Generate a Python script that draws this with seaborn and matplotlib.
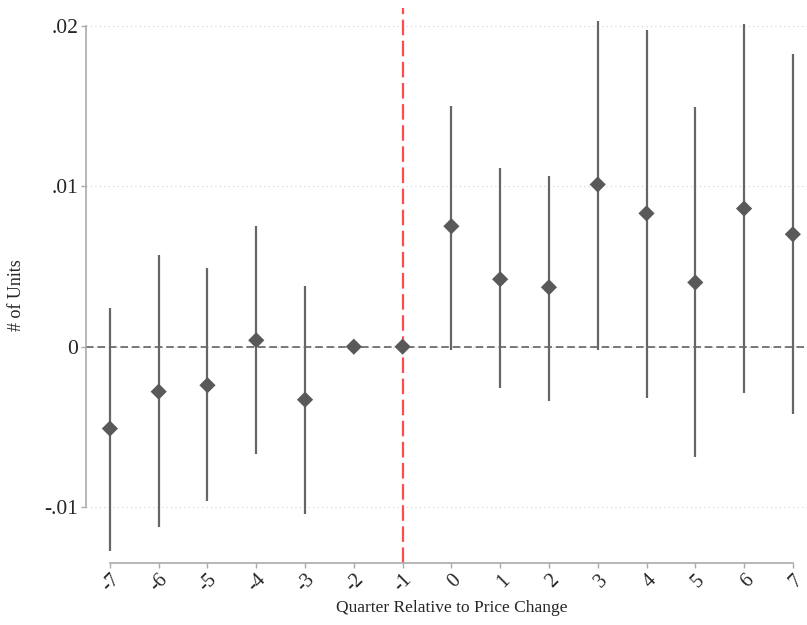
import matplotlib
matplotlib.use("Agg")
import matplotlib.pyplot as plt
import seaborn as sns
import pandas as pd

quarters = [-7, -6, -5, -4, -3, -2, -1, 0, 1, 2, 3, 4, 5, 6, 7]
coef = [-0.0051, -0.0028, -0.0024, 0.0004, -0.0033, 0.0, 0.0,
        0.0075, 0.0042, 0.0037, 0.0101, 0.0083, 0.0040, 0.0086, 0.0070]
ci_low = [-0.0127, -0.0112, -0.0096, -0.0067, -0.0104, 0.0, 0.0,
          -0.0002, -0.0026, -0.0034, -0.0002, -0.0032, -0.0069, -0.0029, -0.0042]
ci_high = [0.0024, 0.0057, 0.0049, 0.0075, 0.0038, 0.0, 0.0,
           0.0150, 0.0111, 0.0106, 0.0203, 0.0197, 0.0149, 0.0201, 0.0182]
ytick_vals = [-0.01, 0.0, 0.01, 0.02]
ytick_labels = ["-.01", "0", ".01", ".02"]

df = pd.DataFrame({"quarter": quarters, "coef": coef, "lo": ci_low, "hi": ci_high})

sns.set_theme(style="white")
plt.rcParams["font.family"] = ["Liberation Serif", "DejaVu Serif"]

fig = plt.figure(figsize=(8.07, 6.25), dpi=100)
ax = fig.add_axes([86 / 807, 1 - 563 / 625, (807 - 86) / 807, (563 - 8) / 625])

# grid lines (dotted)
for yv in ytick_vals:
    ax.axhline(yv, color="#d0d0d0", linestyle=(0, (1, 3)), linewidth=0.8, zorder=0)

ax.axhline(0, color="#555555", linestyle=(0, (5, 2.5)), linewidth=1.1, zorder=1)
ax.axvline(-1, color="#ff4b4b", linestyle=(0, (7, 2.5)), linewidth=1.6, zorder=1)

sub = df[df["hi"] != df["lo"]]
ax.vlines(sub["quarter"], sub["lo"], sub["hi"], color="#666666", linewidth=1.6, zorder=2)
sns.scatterplot(data=df, x="quarter", y="coef", marker="D", color="#595959",
                s=68, edgecolor="none", ax=ax, zorder=3, legend=False)

ax.set_xlim(-7.49, 7.29)
ax.set_ylim(-0.01347, 0.02109)
ax.set_xticks(quarters)
ax.set_xticklabels([str(q) for q in quarters], rotation=45, ha="right",
                   rotation_mode="anchor", fontsize=14.5)
ax.set_yticks(ytick_vals)
ax.set_yticklabels(ytick_labels, fontsize=15.5)
ax.tick_params(axis="both", direction="out", length=3.5, width=1, color="#aaaaaa",
               bottom=True, left=True)
ax.tick_params(axis="y", pad=2)
ax.tick_params(axis="x", pad=2)

for side in ["top", "right"]:
    ax.spines[side].set_visible(False)
ax.spines["left"].set_bounds(-0.01, 0.02)
ax.spines["bottom"].set_bounds(-7, 7)
for side in ["left", "bottom"]:
    ax.spines[side].set_color("#aaaaaa")
    ax.spines[side].set_linewidth(1.2)

ax.set_xlabel("Quarter Relative to Price Change", fontsize=12.5)
ax.xaxis.set_label_coords(0.507, -0.066)
ax.set_ylabel("# of Units", fontsize=13)
ax.yaxis.set_label_coords(-0.084, 0.482)

fig.savefig("out.png", dpi=100)
